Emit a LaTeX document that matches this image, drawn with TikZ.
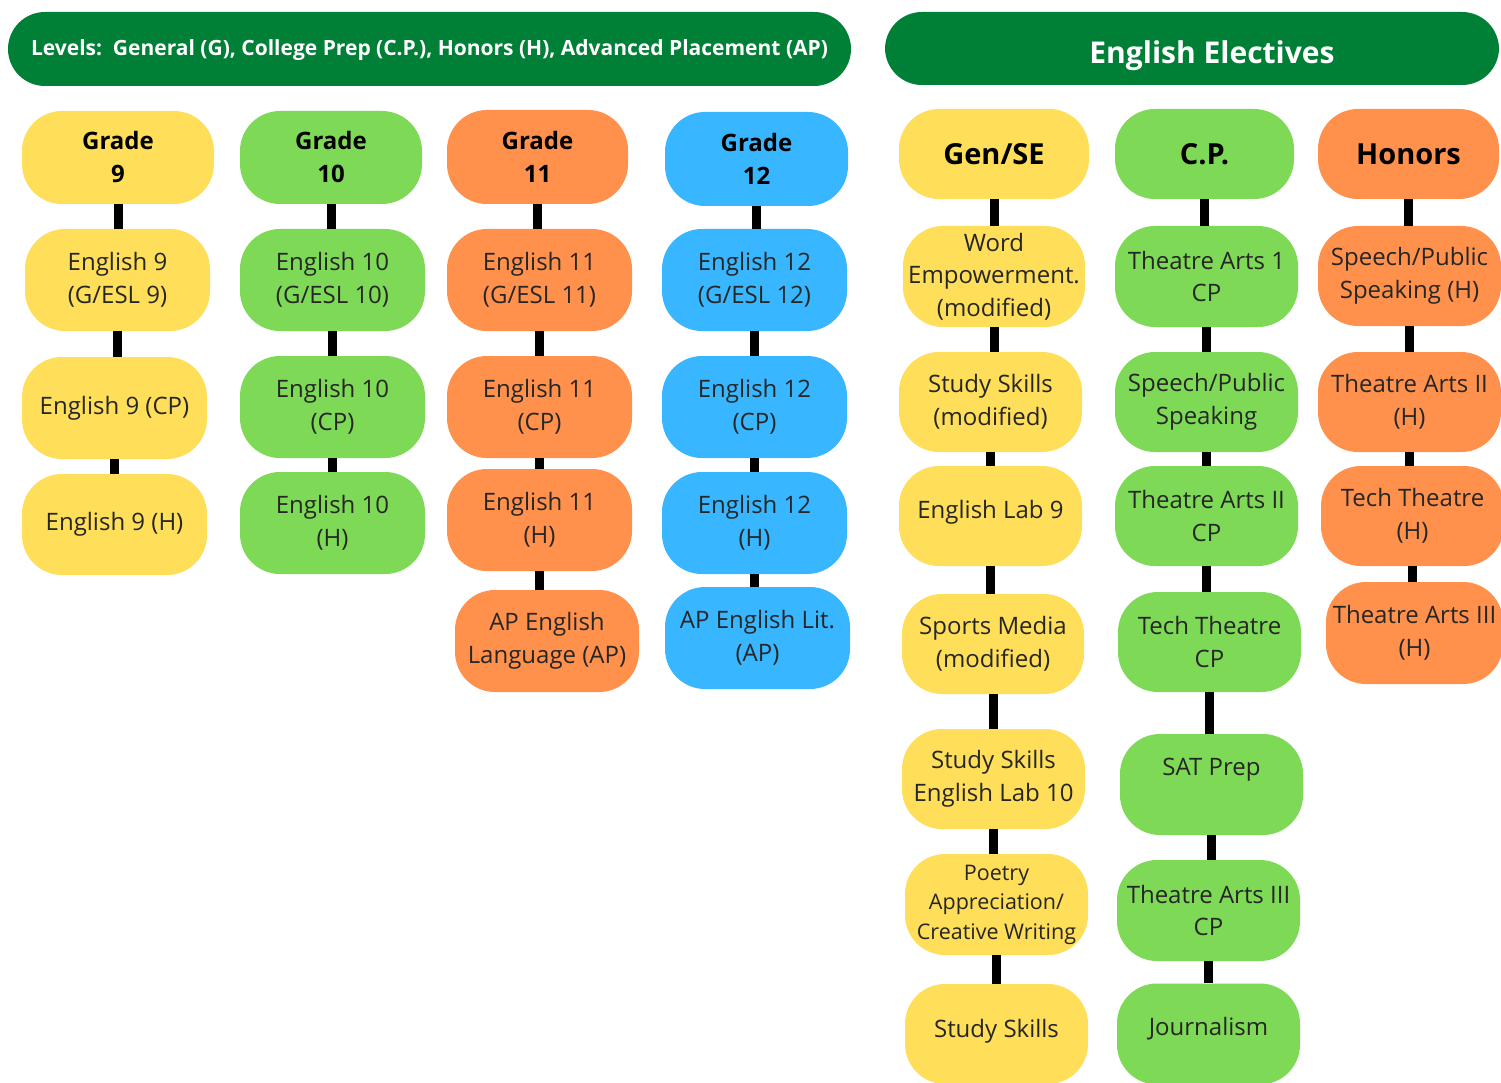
\documentclass[tikz,border=0pt]{standalone}
\usepackage{fontspec}
\setmainfont{Open Sans}
\definecolor{yel}{HTML}{FFDE59}
\definecolor{grn}{HTML}{7ED957}
\definecolor{org}{HTML}{FF914D}
\definecolor{blu}{HTML}{38B6FF}
\definecolor{dkg}{HTML}{008037}
\definecolor{txt}{HTML}{262626}
\tikzset{
  sz/.style 2 args={minimum width=#1pt, minimum height=#2pt},
  course/.style={fill=#1, draw=none, rounded corners=40pt, inner sep=0pt, align=center,
     text=txt, font=\fontsize{24}{32.5}\selectfont},
  grade/.style={course=#1, text=black, font=\fontsize{24}{33}\selectfont\bfseries},
  ehead/.style={course=#1, text=black, font=\fontsize{29}{35}\selectfont\bfseries},
  banner/.style={fill=dkg, draw=none, rounded corners=37pt, inner sep=0pt, align=center, text=white},
  conn/.style={line width=9pt, black},
}
\begin{document}
\begin{tikzpicture}[x=1pt, y=-1pt]
\useasboundingbox (0,0) rectangle (1501,1083);
\fill[white] (0,0) rectangle (1501,1083);
% banners
\node[banner, sz={843}{74}, font=\fontsize{21}{24}\selectfont\bfseries, text height=19pt, text depth=5pt] (lev) at (429.5,49)
  {Levels:\ \ General (G), College Prep (C.P.), Honors (H), Advanced Placement (AP)};
\node[banner, sz={614}{73}, font=\fontsize{30}{34}\selectfont\bfseries, text height=37pt, text depth=7pt] (ee) at (1192,48.5)
  {\hspace*{40pt}English Electives};
% Grade 9
\node[grade=yel, sz={192}{93}] (g9) at (118,157.5) {Grade\\9};
\node[course=yel, sz={185}{102}] (g9a) at (117.5,280) {English 9\\(G/ESL 9)};
\node[course=yel, sz={185}{102}] (g9b) at (114.5,408) {English 9 (CP)};
\node[course=yel, sz={185}{101}] (g9c) at (114.5,524.5) {English 9 (H)};
% Grade 10
\node[grade=grn, sz={182}{93}] (g10) at (331,157.5) {Grade\\10};
\node[course=grn, sz={185}{102}] (g10a) at (332.5,280) {English 10\\(G/ESL 10)};
\node[course=grn, sz={185}{102}] (g10b) at (332.5,407) {English 10\\(CP)};
\node[course=grn, sz={185}{102}] (g10c) at (332.5,523) {English 10\\(H)};
% Grade 11
\node[grade=org, sz={181}{94}] (g11) at (537.5,157) {Grade\\11};
\node[course=org, sz={185}{102}] (g11a) at (539.5,280) {English 11\\(G/ESL 11)};
\node[course=org, sz={185}{102}] (g11b) at (539.5,407) {English 11\\(CP)};
\node[course=org, sz={185}{102}] (g11c) at (539.5,520) {English 11\\(H)};
\node[course=org, sz={184}{102}] (g11d) at (547,641) {AP English\\Language (AP)};
% Grade 12
\node[grade=blu, sz={183}{94}] (g12) at (756.5,159) {Grade\\12};
\node[course=blu, sz={185}{102}] (g12a) at (754.5,280) {English 12\\(G/ESL 12)};
\node[course=blu, sz={185}{102}] (g12b) at (754.5,407) {English 12\\(CP)};
\node[course=blu, sz={185}{102}] (g12c) at (754.5,523) {English 12\\(H)};
\node[course=blu, sz={185}{102}] (g12d) at (757.5,638) {AP English Lit.\\(AP)};
% Gen/SE
\node[ehead=yel, sz={190}{90}] (gs) at (994,154) {Gen/SE};
\node[course=yel, sz={182}{101}] (gs1) at (994,276.5) {Word\\Empowerment.\\(modified)};
\node[course=yel, sz={183}{100}] (gs2) at (990.5,402) {Study Skills\\(modified)};
\node[course=yel, sz={183}{100}, text depth=14pt] (gs3) at (990.5,516) {English Lab 9};
\node[course=yel, sz={182}{100}] (gs4) at (993,644) {Sports Media\\(modified)};
\node[course=yel, sz={183}{100}] (gs5) at (993.5,779) {Study Skills\\English Lab 10};
\node[course=yel, sz={183}{101}, font=\fontsize{21.5}{29.5}\selectfont] (gs6) at (996.5,904.5) {Poetry\\Appreciation/\\Creative Writing};
\node[course=yel, sz={183}{100}, text depth=12pt] (gs7) at (996.5,1034) {Study Skills};
% C.P.
\node[ehead=grn, sz={179}{90}] (cp) at (1204.5,154) {C.P.};
\node[course=grn, sz={183}{101}] (cp1) at (1206.5,276.5) {Theatre Arts 1\\CP};
\node[course=grn, sz={183}{100}] (cp2) at (1206.5,402) {Speech/Public\\Speaking};
\node[course=grn, sz={183}{100}] (cp3) at (1206.5,516) {Theatre Arts II\\CP};
\node[course=grn, sz={183}{100}] (cp4) at (1209.5,642) {Tech Theatre\\CP};
\node[course=grn, sz={183}{101}, text depth=36pt] (cp5) at (1211.5,784.5) {SAT Prep};
\node[course=grn, sz={183}{101}, text depth=16pt] (cp7) at (1208.5,1034) {Journalism};
\node[course=grn, sz={183}{101}] (cp6) at (1208.5,910.5) {Theatre Arts III\\CP};
% Honors
\node[ehead=org, sz={181}{90}] (hn) at (1408.5,154) {Honors};
\node[course=org, sz={183}{100}] (hn1) at (1409.5,276) {Speech/Public\\Speaking (H)};
\node[course=org, sz={183}{100}] (hn2) at (1409.5,402) {Theatre Arts II\\(H)};
\node[course=org, sz={183}{100}] (hn3) at (1412.5,516) {Tech Theatre\\(H)};
\node[course=org, sz={177}{102}] (hn4) at (1414.5,633) {Theatre Arts III\\(H)};
% connectors
\foreach \a/\b in {g9/g9a, g9a/g9b, g9b/g9c,
                   g10/g10a, g10a/g10b, g10b/g10c,
                   g11/g11a, g11a/g11b, g11b/g11c, g11c/g11d,
                   g12/g12a, g12a/g12b, g12b/g12c, g12c/g12d,
                   gs/gs1, gs1/gs2, gs2/gs3, gs3/gs4, gs4/gs5, gs5/gs6, gs6/gs7,
                   cp/cp1, cp1/cp2, cp2/cp3, cp3/cp4, cp4/cp5, cp5/cp6, cp6/cp7,
                   hn/hn1, hn1/hn2, hn2/hn3, hn3/hn4}
  \draw[conn] (\a.south) -- (\a.south |- \b.north);
\end{tikzpicture}
\end{document}
